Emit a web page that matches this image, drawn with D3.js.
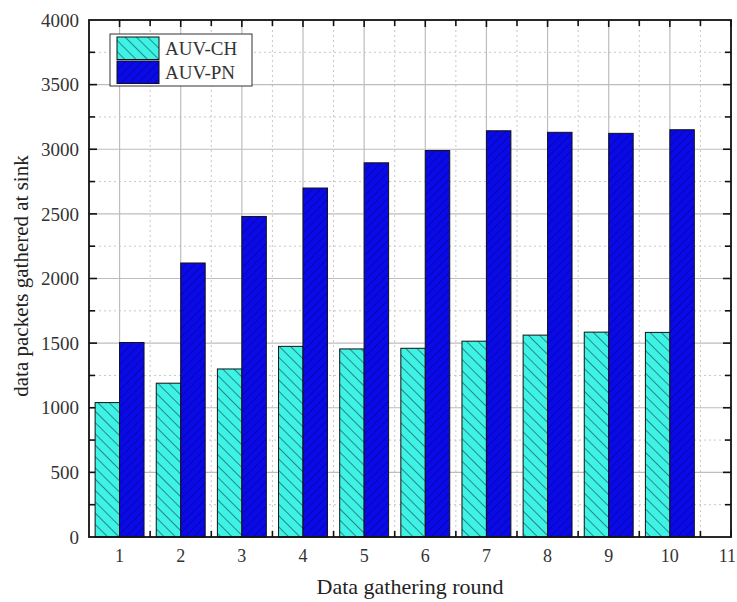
<!DOCTYPE html>
<html>
<head>
<meta charset="utf-8">
<script src="https://cdn.jsdelivr.net/npm/d3@7/dist/d3.min.js"></script>
<style>
  html, body { margin: 0; padding: 0; background: #fff; }
  svg { display: block; font-family: "Liberation Serif", "Times New Roman", serif; }
</style>
</head>
<body>
<svg id="chart" width="737" height="602"></svg>
<script>
// Data gathering rounds and packets gathered at the sink
const rounds = [1, 2, 3, 4, 5, 6, 7, 8, 9, 10];
const seriesNames = ["AUV-CH", "AUV-PN"];
const auvCH = [1040, 1190, 1300, 1475, 1455, 1460, 1515, 1562, 1585, 1583];
const auvPN = [1505, 2120, 2480, 2700, 2895, 2990, 3143, 3131, 3123, 3151];
const xTickLabels = [1, 2, 3, 4, 5, 6, 7, 8, 9, 10, 11];
const yTickLabels = [0, 500, 1000, 1500, 2000, 2500, 3000, 3500, 4000];

const svg = d3.select("#chart");
const W = 737;
const plotLeft = 89, plotRight = 731, plotTop = 20, plotBottom = 537;

const x = d3.scaleLinear().domain([0.5, 11]).range([plotLeft, plotRight]);
const y = d3.scaleLinear().domain([0, 4000]).range([plotBottom, plotTop]);
const barW = x(1.4) - x(1.0);

// hatch patterns
const defs = svg.append("defs");
const pCH = defs.append("pattern").attr("id", "hatchCH")
  .attr("patternUnits", "userSpaceOnUse").attr("width", 8).attr("height", 8)
  .attr("patternTransform", "rotate(-45)");
pCH.append("rect").attr("width", 8).attr("height", 8).attr("fill", "#3ef2e4");
pCH.append("line").attr("x1", 0).attr("y1", 0).attr("x2", 0).attr("y2", 8)
  .attr("stroke", "#1d5a66").attr("stroke-width", 1.4);

const pPN = defs.append("pattern").attr("id", "hatchPN")
  .attr("patternUnits", "userSpaceOnUse").attr("width", 6).attr("height", 6)
  .attr("patternTransform", "rotate(45)");
pPN.append("rect").attr("width", 6).attr("height", 6).attr("fill", "#0a0ae8");
pPN.append("line").attr("x1", 0).attr("y1", 0).attr("x2", 0).attr("y2", 6)
  .attr("stroke", "#03038a").attr("stroke-width", 1.2);

// grid
const g = svg.append("g");
const majorY = d3.range(500, 4000, 500);
const minorY = d3.range(250, 4000, 500);
const majorX = d3.range(1, 11, 1);
const minorX = d3.range(1.5, 11, 1);
g.selectAll(".gmy").data(minorY).join("line")
  .attr("x1", plotLeft).attr("x2", plotRight).attr("y1", d => y(d)).attr("y2", d => y(d))
  .attr("stroke", "#c8c8c8").attr("stroke-width", 1).attr("stroke-dasharray", "2,3");
g.selectAll(".gmx").data(minorX).join("line")
  .attr("y1", plotTop).attr("y2", plotBottom).attr("x1", d => x(d)).attr("x2", d => x(d))
  .attr("stroke", "#c8c8c8").attr("stroke-width", 1).attr("stroke-dasharray", "2,3");
g.selectAll(".gMy").data(majorY).join("line")
  .attr("x1", plotLeft).attr("x2", plotRight).attr("y1", d => y(d)).attr("y2", d => y(d))
  .attr("stroke", "#bdbdbd").attr("stroke-width", 1.2);
g.selectAll(".gMx").data(majorX).join("line")
  .attr("y1", plotTop).attr("y2", plotBottom).attr("x1", d => x(d)).attr("x2", d => x(d))
  .attr("stroke", "#bdbdbd").attr("stroke-width", 1.2);

// inward ticks on all four sides
const ticks = svg.append("g").attr("stroke", "#111").attr("stroke-width", 1.6);
const yAll = d3.range(250, 4000, 250);
yAll.forEach(v => {
  const len = v % 500 === 0 ? 8 : 6;
  ticks.append("line").attr("x1", plotLeft).attr("x2", plotLeft + len).attr("y1", y(v)).attr("y2", y(v));
  ticks.append("line").attr("x1", plotRight).attr("x2", plotRight - len).attr("y1", y(v)).attr("y2", y(v));
});
const xAll = d3.range(1, 11.01, 0.5);
xAll.forEach(v => {
  const len = Number.isInteger(v) ? 7 : 6;
  ticks.append("line").attr("y1", plotTop).attr("y2", plotTop + len).attr("x1", x(v)).attr("x2", x(v));
  ticks.append("line").attr("y1", plotBottom).attr("y2", plotBottom - len).attr("x1", x(v)).attr("x2", x(v));
});

// bars
const bars = svg.append("g");
bars.selectAll(".ch").data(rounds).join("rect")
  .attr("x", (d) => x(d) - barW)
  .attr("y", (d, i) => y(auvCH[i]))
  .attr("width", barW)
  .attr("height", (d, i) => y(0) - y(auvCH[i]))
  .attr("fill", "url(#hatchCH)").attr("stroke", "#111").attr("stroke-width", 1);
bars.selectAll(".pn").data(rounds).join("rect")
  .attr("x", (d) => x(d))
  .attr("y", (d, i) => y(auvPN[i]))
  .attr("width", barW)
  .attr("height", (d, i) => y(0) - y(auvPN[i]))
  .attr("fill", "url(#hatchPN)").attr("stroke", "#111").attr("stroke-width", 1);

// frame
svg.append("rect").attr("x", plotLeft).attr("y", plotTop)
  .attr("width", plotRight - plotLeft).attr("height", plotBottom - plotTop)
  .attr("fill", "none").attr("stroke", "#111").attr("stroke-width", 1.8);

// tick labels
svg.append("g").selectAll("text").data(yTickLabels).join("text")
  .attr("x", plotLeft - 10).attr("y", d => y(d)).attr("dy", "0.35em")
  .attr("text-anchor", "end").attr("font-size", 19).attr("fill", "#333")
  .text(d => d);
const xLabels = svg.append("g").selectAll("text").data(xTickLabels).join("text")
  .attr("x", d => x(d)).attr("y", 556).attr("dy", "0.35em")
  .attr("text-anchor", "middle").attr("font-size", 18).attr("fill", "#333")
  .text(d => d);
// keep the last label inside the page
xLabels.each(function () {
  const bb = this.getBBox();
  if (bb.x + bb.width > W - 1) d3.select(this).attr("x", +this.getAttribute("x") - (bb.x + bb.width - W + 1));
});

// axis titles
svg.append("text").attr("x", 410).attr("y", 594)
  .attr("text-anchor", "middle").attr("font-size", 22).attr("fill", "#222")
  .text("Data gathering round");
svg.append("text").attr("transform", "translate(28, 276) rotate(-90)")
  .attr("text-anchor", "middle").attr("font-size", 21).attr("fill", "#222")
  .text("data packets gathered at sink");

// legend
const lg = svg.append("g").attr("transform", "translate(110, 34)");
lg.append("rect").attr("width", 142).attr("height", 52)
  .attr("fill", "#fff").attr("stroke", "#333").attr("stroke-width", 1);
const fills = ["url(#hatchCH)", "url(#hatchPN)"];
seriesNames.forEach((name, i) => {
  lg.append("rect").attr("x", 7).attr("y", 3 + i * 24).attr("width", 42).attr("height", 22.5)
    .attr("fill", fills[i]).attr("stroke", "#111").attr("stroke-width", 1);
  lg.append("text").attr("x", 55).attr("y", 14.5 + i * 24).attr("dy", "0.35em")
    .attr("font-size", 19).attr("fill", "#333").text(name);
});
</script>
</body>
</html>
